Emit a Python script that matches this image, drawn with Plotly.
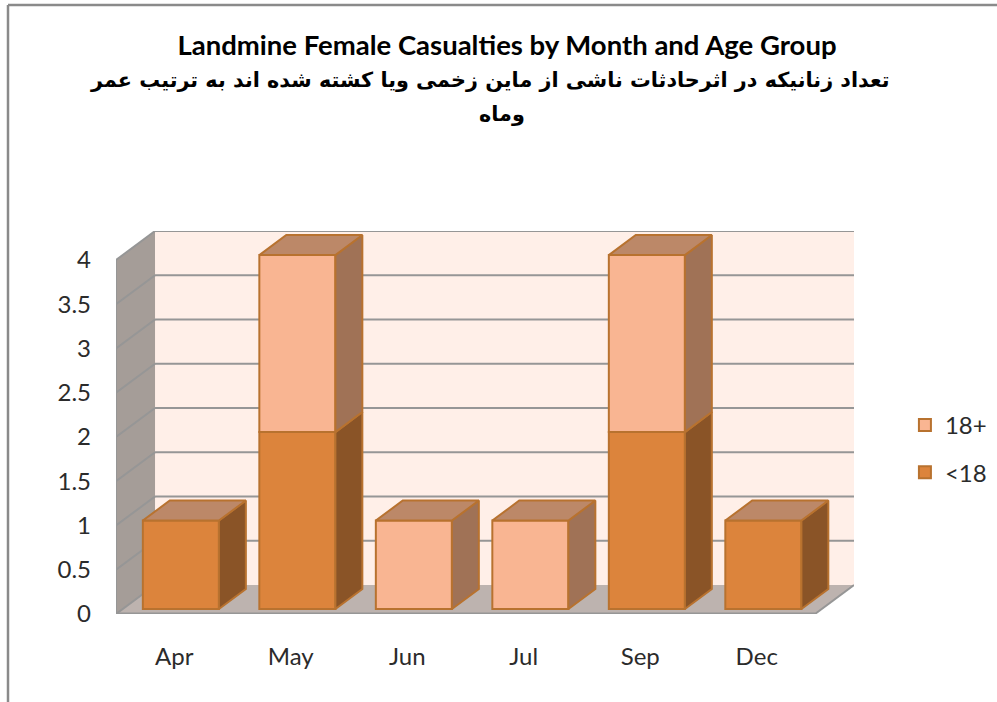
"""Landmine female casualties, 3D-look stacked columns."""

import plotly.graph_objects as go

MONTHS = ["Apr", "May", "Jun", "Jul", "Sep", "Dec"]
UNDER_18 = [1, 2, 0, 0, 2, 1]
OVER_18 = [0, 2, 1, 1, 2, 0]
Y_TICKS = [0, 0.5, 1, 1.5, 2, 2.5, 3, 3.5, 4]
Y_TICK_LABELS = ["0", "0.5", "1", "1.5", "2", "2.5", "3", "3.5", "4"]

TITLE = "Landmine Female Casualties by Month and Age Group"
TITLE_FA_1 = "تعداد زنانیکه در اثرحادثات ناشی از ماین زخمی ویا کشته شده اند به ترتیب عمر"
TITLE_FA_2 = "وماه"

WIDTH, HEIGHT = 997, 702
TEXT_FONT = "Lato, 'Open Sans', sans-serif"
TEXT_COLOR = "#2b2b2b"

# oblique projection: how far one full depth step moves a point, in axis units
DEPTH_X = 0.335
DEPTH_Y = 0.328
BAR_WIDTH = 0.653
BAR_NEAR = 0.17  # bars sit a little behind the front edge of the floor
BAR_FAR = 0.86

COLORS = {
    "<18": {"front": "#DC843C", "side": "#8A5427", "top": "#BC8868"},
    "18+": {"front": "#F9B592", "side": "#A07256", "top": "#BC8868"},
}
EDGE = "#B8722F"
GRID = "#969696"


def project(x, y, depth):
    return x + depth * DEPTH_X, y + depth * DEPTH_Y


def poly_path(points):
    return "M" + "L".join(f"{x},{y}" for x, y in points) + "Z"


def add_face(fig, points, color):
    xs, ys = zip(*points)
    fig.add_trace(
        go.Scatter(
            x=list(xs) + [xs[0]],
            y=list(ys) + [ys[0]],
            mode="lines",
            fill="toself",
            fillcolor=color,
            line={"color": EDGE, "width": 2},
            hoverinfo="skip",
            showlegend=False,
        )
    )


def add_series(fig, name, values, bases):
    fig.add_trace(
        go.Bar(
            name=name,
            legendgroup=name,
            x=[i + BAR_NEAR * DEPTH_X for i in range(len(MONTHS))],
            y=[v if v else None for v in values],
            base=[b + BAR_NEAR * DEPTH_Y for b in bases],
            width=BAR_WIDTH,
            marker={"color": COLORS[name]["front"], "line": {"color": EDGE, "width": 2}},
        )
    )


fig = go.Figure()

add_series(fig, "18+", OVER_18, UNDER_18)
add_series(fig, "<18", UNDER_18, [0] * len(MONTHS))

# side and top faces of each column segment
for i, (low, high) in enumerate(zip(UNDER_18, OVER_18)):
    right = i + BAR_WIDTH / 2
    left = i - BAR_WIDTH / 2
    for name, start, value in (("<18", 0, low), ("18+", low, high)):
        if not value:
            continue
        end = start + value
        add_face(
            fig,
            [
                project(right, start, BAR_NEAR),
                project(right, start, BAR_FAR),
                project(right, end, BAR_FAR),
                project(right, end, BAR_NEAR),
            ],
            COLORS[name]["side"],
        )
    total = low + high
    add_face(
        fig,
        [
            project(left, total, BAR_NEAR),
            project(left, total, BAR_FAR),
            project(right, total, BAR_FAR),
            project(right, total, BAR_NEAR),
        ],
        COLORS["18+"]["top"],
    )

# walls and floor, sitting under the traces
X_MIN, X_MAX = -0.5, len(MONTHS) - 0.5
Y_MAX = Y_TICKS[-1]
wall_shapes = [
    (
        [project(X_MIN, 0, 1), project(X_MAX, 0, 1), project(X_MAX, Y_MAX, 1), project(X_MIN, Y_MAX, 1)],
        "#FFEFE8",
    ),
    (
        [project(X_MIN, 0, 0), project(X_MIN, 0, 1), project(X_MIN, Y_MAX, 1), project(X_MIN, Y_MAX, 0)],
        "#A59D98",
    ),
    (
        [project(X_MIN, 0, 0), project(X_MIN, 0, 1), project(X_MAX, 0, 1), project(X_MAX, 0, 0)],
        "#BDB3AF",
    ),
]
for points, color in wall_shapes:
    fig.add_shape(
        type="path", path=poly_path(points), fillcolor=color, line_width=0, layer="below"
    )


def add_edge(p0, p1, width=2):
    fig.add_shape(
        type="line",
        x0=p0[0],
        y0=p0[1],
        x1=p1[0],
        y1=p1[1],
        line={"color": GRID, "width": width},
        layer="below",
    )


for tick in Y_TICKS[1:]:
    add_edge(project(X_MIN, tick, 0), project(X_MIN, tick, 1))
    add_edge(project(X_MIN, tick, 1), project(X_MAX, tick, 1))
add_edge(project(X_MIN, 0, 0), project(X_MIN, Y_MAX, 0))
add_edge(project(X_MIN, 0, 0), project(X_MAX, 0, 0), 3)
add_edge(project(X_MAX, 0, 0), project(X_MAX, 0, 1))
add_edge(project(X_MIN, 0, 0), project(X_MIN, 0, 1))

# outer chart frame, cropped at right and bottom
for x0, y0, x1, y1 in ((8, 5, 997, 5), (8, 5, 8, 702)):
    fig.add_shape(
        type="line",
        xref="paper",
        yref="paper",
        x0=(x0 - 116) / 738,
        x1=(x1 - 116) / 738,
        y0=(614 - y0) / 383,
        y1=(614 - y1) / 383,
        line={"color": "#8A8A8A", "width": 2.5},
    )

for text, x_px, y_px in ((TITLE_FA_1, 490, 80), (TITLE_FA_2, 502, 114)):
    fig.add_annotation(
        text=f"<b>{text}</b>",
        xref="paper",
        yref="paper",
        x=(x_px - 116) / 738,
        y=(614 - y_px) / 383,
        xanchor="center",
        yanchor="middle",
        showarrow=False,
        font={"family": "'DejaVu Sans', sans-serif", "size": 20.75, "color": "#000000"},
    )

fig.update_layout(
    width=WIDTH,
    height=HEIGHT,
    barmode="overlay",
    plot_bgcolor="white",
    paper_bgcolor="white",
    margin={"l": 116, "r": 143, "t": 231, "b": 88, "pad": 0, "autoexpand": False},
    title={
        "text": f"<b>{TITLE}</b>",
        "x": 507 / WIDTH,
        "xanchor": "center",
        "y": 1 - 45 / HEIGHT,
        "yanchor": "middle",
        "font": {"family": TEXT_FONT, "size": 27.5, "color": "#000000"},
    },
    xaxis={
        "range": [X_MIN, X_MAX + DEPTH_X],
        "tickvals": list(range(len(MONTHS))),
        "ticktext": MONTHS,
        "showgrid": False,
        "zeroline": False,
        "ticks": "",
        "ticklabelstandoff": 26,
        "tickfont": {"family": TEXT_FONT, "size": 24, "color": TEXT_COLOR},
    },
    yaxis={
        "range": [0, Y_MAX + DEPTH_Y],
        "tickvals": Y_TICKS,
        "ticktext": Y_TICK_LABELS,
        "showgrid": False,
        "zeroline": False,
        "ticks": "",
        "ticklabelstandoff": 24,
        "tickfont": {"family": TEXT_FONT, "size": 24, "color": TEXT_COLOR},
    },
    showlegend=True,
    legend={
        "x": 1.069,
        "y": 0.431,
        "yanchor": "middle",
        "tracegroupgap": 13,
        "font": {"family": TEXT_FONT, "size": 24, "color": TEXT_COLOR},
        "bgcolor": "rgba(0,0,0,0)",
        "itemwidth": 30,
    },
)

fig.write_html(
    "out.html",
    config={"displayModeBar": False},
    post_script="document.body.style.margin='0';document.body.style.overflow='hidden';",
)
